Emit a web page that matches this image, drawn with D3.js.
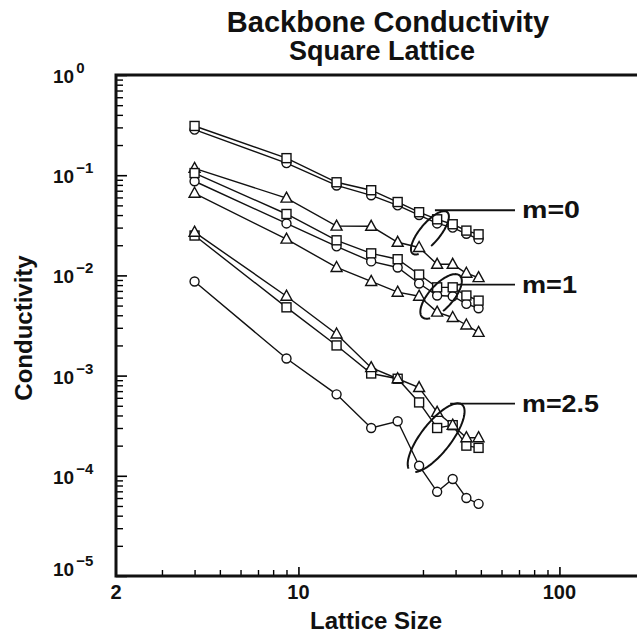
<!DOCTYPE html>
<html>
<head>
<meta charset="utf-8">
<script src="https://cdn.jsdelivr.net/npm/d3@7"></script>
<style>
  body { margin: 0; background: #fff; }
  text { font-family: "Liberation Sans", Arial, sans-serif; font-weight: bold; fill: #111; }
</style>
</head>
<body>
<script>
// lattice sizes (x) shared by every series
var latticeSizes = [4, 9, 14, 19, 24, 29, 34, 39, 44, 49];

// m = 0
var m0Squares   = [0.31, 0.148, 0.085, 0.0708, 0.054, 0.0427, 0.0363, 0.0324, 0.028, 0.0257];
var m0Circles   = [0.285, 0.132, 0.079, 0.063, 0.050, 0.040, 0.033, 0.030, 0.026, 0.023];
var m0Triangles = [0.117, 0.059, 0.031, 0.0309, 0.0214, 0.019, 0.0129, 0.0129, 0.0105, 0.0095];

// m = 1
var m1Squares   = [0.105, 0.041, 0.0224, 0.0166, 0.0145, 0.0102, 0.0076, 0.0076, 0.0063, 0.0056];
var m1Circles   = [0.087, 0.033, 0.0195, 0.0138, 0.012, 0.0083, 0.0063, 0.0062, 0.0052, 0.0047];
var m1Triangles = [0.066, 0.023, 0.012, 0.0087, 0.0068, 0.0062, 0.0043, 0.0038, 0.0032, 0.0027];

// m = 2.5
var m25Triangles = [0.027, 0.0062, 0.0026, 0.0012, 0.00093, 0.00076, 0.00043, 0.00032, 0.00024, 0.00024];
var m25Squares   = [0.025, 0.0048, 0.0020, 0.00105, 0.00093, 0.00054, 0.00030, 0.00032, 0.00020, 0.00019];
var m25Circles   = [0.0087, 0.00148, 0.00065, 0.00030, 0.00035, 0.000126, 0.0000692, 0.000093, 0.00006, 0.0000525];

var xTickValues = [2, 10, 100];
var xTickLabels = ["2", "10", "100"];
var yExponents = [0, -1, -2, -3, -4, -5];

// group labels: text, ellipse centre (size, value), leader value
var groupLabels = ["m=0", "m=1", "m=2.5"];
var groupCentreSize = [31.9, 35.2, 33.7];
var groupCentreValue = [0.0266, 0.00617, 0.00024];
var groupLeaderValue = [0.0447, 0.0081, 0.000525];

var series = [
    { values: m0Circles, shape: "circle" },
    { values: m0Squares, shape: "square" },
    { values: m0Triangles, shape: "triangle" },
    { values: m1Circles, shape: "circle" },
    { values: m1Squares, shape: "square" },
    { values: m1Triangles, shape: "triangle" },
    { values: m25Circles, shape: "circle" },
    { values: m25Squares, shape: "square" },
    { values: m25Triangles, shape: "triangle" }
];

var width = 637, height = 635;
var svg = d3.select("body").append("svg")
    .attr("width", width)
    .attr("height", height);

var x = d3.scaleLog().domain([2, 200]).range([116, 638]);
var y = d3.scaleLog().domain([1e-5, 1]).range([576, 75]);

// titles
svg.append("text").attr("x", 388).attr("y", 32)
    .attr("text-anchor", "middle").style("font-size", "29px")
    .text("Backbone Conductivity");
svg.append("text").attr("x", 382).attr("y", 60)
    .attr("text-anchor", "middle").style("font-size", "27px")
    .text("Square Lattice");

// axis labels
svg.append("text").attr("x", 376).attr("y", 629)
    .attr("text-anchor", "middle").style("font-size", "24px")
    .text("Lattice Size");
svg.append("text")
    .attr("transform", "translate(32,328) rotate(-90)")
    .attr("text-anchor", "middle").style("font-size", "24px")
    .text("Conductivity");

// x ticks (inward)
var xMinor = [];
[2, 20].forEach(function (base) {
    for (var k = 1.5; k <= 4.5; k += 0.5) xMinor.push(base * k);
});
svg.append("g")
    .attr("transform", "translate(0,576)")
    .call(d3.axisBottom(x).tickValues(xMinor).tickSize(-6).tickSizeOuter(0).tickFormat(""))
    .call(function (g) { g.select(".domain").remove(); })
    .selectAll("line").attr("stroke-width", 1.4);
svg.append("g")
    .attr("transform", "translate(0,576)")
    .call(d3.axisBottom(x).tickValues([10, 100]).tickSize(-9).tickSizeOuter(0).tickFormat(""))
    .call(function (g) { g.select(".domain").remove(); })
    .selectAll("line").attr("stroke-width", 1.6);

// y ticks (inward)
var yMinor = [];
yExponents.slice(0, 5).forEach(function (e) {
    for (var k = 2; k <= 9; k++) yMinor.push(k * Math.pow(10, e - 1));
});
svg.append("g")
    .attr("transform", "translate(116,0)")
    .call(d3.axisLeft(y).tickValues(yMinor).tickSize(-7).tickSizeOuter(0).tickFormat(""))
    .call(function (g) { g.select(".domain").remove(); })
    .selectAll("line").attr("stroke-width", 1.4);
svg.append("g")
    .attr("transform", "translate(116,0)")
    .call(d3.axisLeft(y).tickValues(yExponents.map(function (e) { return Math.pow(10, e); }))
        .tickSize(-11).tickSizeOuter(0).tickFormat(""))
    .call(function (g) { g.select(".domain").remove(); })
    .selectAll("line").attr("stroke-width", 1.6);

// frame
svg.append("path")
    .attr("d", "M637," + y(1) + "H" + x(2) + "V" + y(1e-5) + "H637")
    .attr("fill", "none").attr("stroke", "#111").attr("stroke-width", 3);

// x tick labels
svg.selectAll(".xlab").data(xTickValues).enter().append("text")
    .attr("class", "xlab")
    .attr("x", function (d) { return x(d); })
    .attr("y", 599)
    .attr("text-anchor", "middle")
    .style("font-size", "20px")
    .text(function (d, i) { return xTickLabels[i]; });

// y tick labels 10^n
var ylab = svg.selectAll(".ylab").data(yExponents).enter().append("text")
    .attr("class", "ylab")
    .attr("x", 53)
    .attr("y", function (d) { return y(Math.pow(10, d)) + (d === -5 ? 0 : 8); })
    .style("font-size", "19px");
ylab.append("tspan").text("10");
ylab.append("tspan")
    .attr("dx", 2).attr("dy", -10)
    .style("font-size", "15px")
    .text(function (d) { return d === 0 ? "0" : "\u2212" + (-d); });

// series lines
var line = d3.line()
    .x(function (d) { return x(d[0]); })
    .y(function (d) { return y(d[1]); });

var plot = svg.append("g");
series.forEach(function (s) {
    var pts = latticeSizes.map(function (L, i) { return [L, s.values[i]]; });
    plot.append("path")
        .datum(pts)
        .attr("d", line)
        .attr("fill", "none")
        .attr("stroke", "#111")
        .attr("stroke-width", 1.4);
});

// markers
var triPath = "M0,-6L5.5,4L-5.5,4Z";
series.forEach(function (s) {
    var pts = latticeSizes.map(function (L, i) { return [L, s.values[i]]; });
    var g = plot.append("g");
    var m = g.selectAll("g").data(pts).enter().append("g")
        .attr("transform", function (d) { return "translate(" + x(d[0]) + "," + y(d[1]) + ")"; });
    if (s.shape === "circle") {
        m.append("circle").attr("r", 4.5);
    } else if (s.shape === "square") {
        m.append("rect").attr("x", -4.5).attr("y", -4.5).attr("width", 9).attr("height", 9);
    } else {
        m.append("path").attr("d", triPath);
    }
    m.selectAll("circle,rect,path")
        .attr("fill", "#fff")
        .attr("stroke", "#111")
        .attr("stroke-width", 1.4);
});

// group ellipses with leader lines and labels
var ellipseR = [[10, 27, 40], [12, 28, 42], [15, 42, 38]]; // rx, ry, tilt (deg)
var ellipseGap = [[0.35, 1.05], [0.35, 1.0], [1.25, 1.75]]; // gap in param angle (rad)
groupLabels.forEach(function (label, i) {
    var cx = x(groupCentreSize[i]), cy = y(groupCentreValue[i]);
    var rx = ellipseR[i][0], ry = ellipseR[i][1], th = ellipseR[i][2] * Math.PI / 180;
    var t0 = ellipseGap[i][1], t1 = ellipseGap[i][0] + 2 * Math.PI;
    var ts = d3.range(t0, t1, 0.05).concat([t1]);
    var pts = ts.map(function (t) {
        var ex = rx * Math.cos(t), ey = ry * Math.sin(t);
        return [cx + ex * Math.cos(th) - ey * Math.sin(th), cy + ex * Math.sin(th) + ey * Math.cos(th)];
    });
    svg.append("path")
        .attr("d", d3.line()(pts))
        .attr("fill", "none")
        .attr("stroke", "#111")
        .attr("stroke-width", 2);
    var ly = y(groupLeaderValue[i]);
    svg.append("line")
        .attr("x1", cx + [5, 16, 14][i]).attr("x2", 515)
        .attr("y1", ly).attr("y2", ly)
        .attr("stroke", "#111").attr("stroke-width", 1.8);
    svg.append("text")
        .attr("x", 522).attr("y", ly + 8)
        .style("font-size", "23px")
        .attr("textLength", [58, 55, 77][i])
        .attr("lengthAdjust", "spacingAndGlyphs")
        .text(label);
});
</script>
</body>
</html>
